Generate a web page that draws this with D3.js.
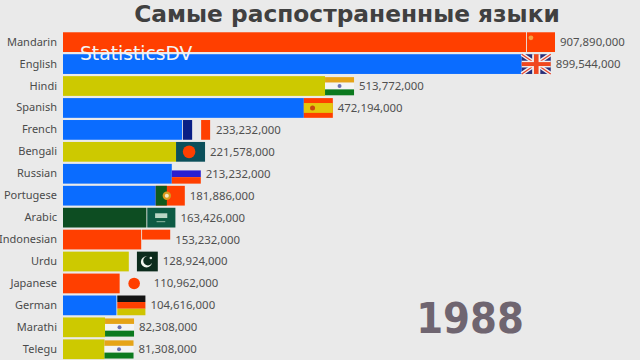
<!DOCTYPE html>
<html>
<head>
<meta charset="utf-8">
<script src="https://cdn.jsdelivr.net/npm/d3@7/dist/d3.min.js"></script>
<style>
html,body{margin:0;padding:0;background:#eaeaea;overflow:hidden}
svg{display:block}
</style>
</head>
<body>
<svg id="c" width="640" height="360"></svg>
<script>
const languages = ["Mandarin","English","Hindi","Spanish","French","Bengali","Russian","Portugese","Arabic","Indonesian","Urdu","Japanese","German","Marathi","Telegu"];
const speakers = [907890000,899544000,513772000,472194000,233232000,221578000,213232000,181886000,163426000,153232000,128924000,110962000,104616000,82308000,81308000];
const groups = ["red","blue","olive","blue","blue","olive","blue","blue","green","red","olive","red","blue","olive","olive"];
const flags = ["cn","gb","in","es","fr","bd","ru","pt","sa","id","pk","jp","de","in","in"];
const year = "1988";
const titleText = "Самые распостраненные языки";
const watermark = "StatisticsDV";

const palette = {red:"#ff3f00",blue:"#0a6cff",olive:"#cdc900",green:"#0d4d22"};
const svg = d3.select("#c");
const W = 29;

const x = d3.scaleLinear().domain([-57000000, 907890000]).range([63, 555]);
const y = d3.scaleBand().domain(languages).range([31.4, 360]).paddingInner(0.1).paddingOuter(0.04);
const H = y.bandwidth();

const rows = languages.map((name,i)=>({name,value:speakers[i],group:groups[i],flag:flags[i]}));

svg.append("text").attr("x",347).attr("y",22).attr("text-anchor","middle")
  .attr("font-family","DejaVu Sans").attr("font-weight","bold").attr("font-size",23.3)
  .attr("fill","#404040").text(titleText);

const yAxis = svg.append("g").attr("transform","translate(63,0)").call(d3.axisLeft(y).tickSize(0).tickPadding(6));
yAxis.select(".domain").remove();
yAxis.selectAll("text").attr("font-family","Noto Sans").attr("font-size",11).attr("fill","#4a4a4a");

svg.append("g").selectAll("rect").data(rows).join("rect")
  .attr("x",x.range()[0]).attr("y",d=>y(d.name))
  .attr("width",d=>x(d.value)-W-x.range()[0]).attr("height",H)
  .attr("fill",d=>palette[d.group]);

function r(g,px,py,w,h,f){g.append("rect").attr("x",px*W).attr("y",py*H).attr("width",w*W).attr("height",h*H).attr("fill",f);}
function c(g,px,py,rad,f){g.append("circle").attr("cx",px*W).attr("cy",py*H).attr("r",rad).attr("fill",f);}
const draw = {
  cn(g){r(g,0.03,0,0.97,1,"#ff3f00");c(g,0.17,0.28,2.4,"#f5a040");},
  gb(g){
    r(g,0,0,1,1,"#2a2f7a");
    const cross=(a,b,c2,d,col,sw)=>g.append("line").attr("x1",a*W).attr("y1",b*H).attr("x2",c2*W).attr("y2",d*H).attr("stroke",col).attr("stroke-width",sw);
    cross(0,0,1,1,"#f2f2f2",4);cross(1,0,0,1,"#f2f2f2",4);
    cross(0,0,1,1,"#e8452c",1.3);cross(1,0,0,1,"#e8452c",1.3);
    r(g,0.36,0,0.28,1,"#f2f2f2");r(g,0,0.33,1,0.34,"#f2f2f2");
    r(g,0.42,0,0.16,1,"#f0481f");r(g,0,0.4,1,0.2,"#f0481f");
  },
  in(g){r(g,0,0.05,1,0.28,"#e6a417");r(g,0,0.33,1,0.34,"#f4f4f4");r(g,0,0.67,1,0.3,"#0c7a1f");c(g,0.5,0.5,2,"#6a6fb0");},
  es(g){r(g,0,0,1,1,"#ff3f00");r(g,0,0.25,1,0.5,"#e3c70c");c(g,0.3,0.5,2.5,"#c9480f");},
  fr(g){r(g,0.03,0,0.32,1,"#0a1f85");r(g,0.66,0,0.31,1,"#ff3f00");},
  bd(g){r(g,0,0,1,1,"#0b4f5a");c(g,0.45,0.5,6.3,"#ff3f00");},
  ru(g){r(g,0,0.33,1,0.34,"#2a1fd0");r(g,0,0.67,1,0.33,"#ff3f00");},
  pt(g){r(g,0,0,1,1,"#ff3f00");r(g,0,0,0.38,1,"#0f5a1c");c(g,0.38,0.5,4.2,"#d99a1e");c(g,0.38,0.5,2,"#f2e8c0");},
  sa(g){r(g,0.03,0,0.97,1,"#0d5b44");r(g,0.3,0.28,0.42,0.24,"#b9d6c6");r(g,0.35,0.68,0.3,0.05,"#8fbaa3");},
  id(g){r(g,0.03,0,0.97,0.5,"#ff3f00");},
  pk(g){
    r(g,0.28,0,0.72,1,"#0c2b1c");c(g,0.61,0.52,5.6,"#f1f5ee");c(g,0.66,0.46,4.7,"#0c2b1c");c(g,0.76,0.32,1.3,"#f1f5ee");
  },
  jp(g){c(g,0.5,0.5,5.8,"#ff3f00");},
  de(g){r(g,0.03,0,0.97,0.33,"#141414");r(g,0.03,0.33,0.97,0.34,"#ff3f00");r(g,0.03,0.67,0.97,0.33,"#cfc400");}
};
const flagG = svg.append("g").selectAll("g").data(rows).join("g")
  .attr("transform",d=>`translate(${x(d.value)-W},${y(d.name)})`);
flagG.each(function(d){draw[d.flag](d3.select(this));});

svg.append("g").selectAll("text").data(rows).join("text")
  .attr("x",d=>x(d.value)+5).attr("y",d=>y(d.name)+H/2).attr("dy","0.35em")
  .attr("font-family","Noto Sans").attr("font-size",11.4).attr("fill","#505050")
  .text(d=>d3.format(",")(d.value));

svg.append("text").attr("x",80).attr("y",59.5).attr("font-family","DejaVu Sans").attr("font-size",18.7)
  .attr("fill","#f4f4f4").text(watermark);

svg.append("text").attr("x",470).attr("y",333).attr("text-anchor","middle")
  .attr("font-family","DejaVu Sans").style("font-stretch","condensed").attr("font-weight","bold").attr("font-size",43)
  .attr("fill","#6f6570").text(year);
</script>
</body>
</html>
